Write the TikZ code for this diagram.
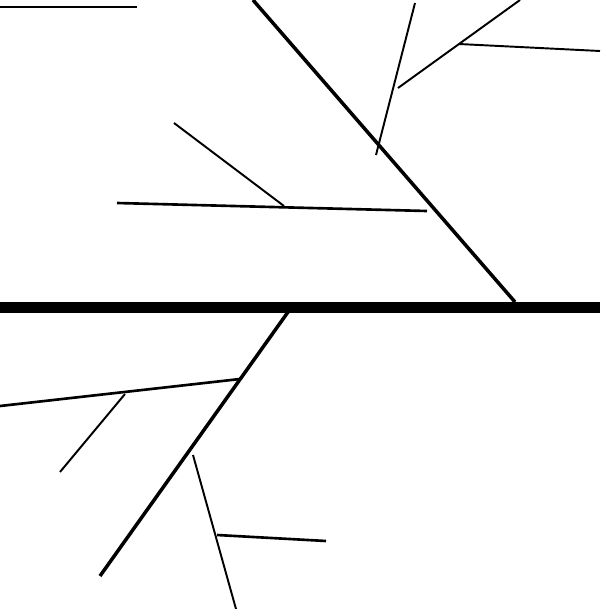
\documentclass[tikz,border=0pt]{standalone}
\usepackage{tikz}

\begin{document}
\begin{tikzpicture}[x=0.02cm,y=-0.02cm,
  backbone/.style={line width=6.2pt},
  spine/.style={line width=2pt},
  bone/.style={line width=1.5pt},
  twig/.style={line width=1.1pt}]
  \useasboundingbox (0,0) rectangle (600,609);

  % Backbone
  \coordinate (bL) at (0,307.5);
  \coordinate (bR) at (600,307.5);
  \draw[backbone] (bL) -- (bR);

  % Loose line top left
  \coordinate (tA) at (0,7);
  \coordinate (tB) at (137,7);
  \draw[bone] (tA) -- (tB);

  % Upper spine
  \coordinate (uTop) at (253,0);
  \coordinate (uFoot) at (515,302);
  \draw[spine] (uTop) -- (uFoot);

  % Upper branches
  \coordinate (ubLow) at (376,155);
  \coordinate (ubTop) at (415,3);
  \coordinate (ubFork) at (398,88);
  \coordinate (ubTip) at (520,0);
  \coordinate (ubKnee) at (459,44);
  \coordinate (ubEnd) at (600,51);
  \draw[twig] (ubLow) -- (ubTop);
  \draw[twig] (ubFork) -- (ubTip);
  \draw[twig] (ubKnee) -- (ubEnd);

  % Middle bone
  \coordinate (mL) at (117,203);
  \coordinate (mR) at (427,211);
  \coordinate (mFork) at (284,206);
  \coordinate (mTip) at (174,123);
  \draw[bone] (mL) -- (mR);
  \draw[twig] (mFork) -- (mTip);

  % Lower spine
  \coordinate (lTop) at (288,312);
  \coordinate (lEnd) at (100,576);
  \draw[spine] (lTop) -- (lEnd);

  % Lower branches
  \coordinate (lbFork) at (240,379);
  \coordinate (lbEnd) at (0,406);
  \coordinate (lbKnee) at (125,394);
  \coordinate (lbTip) at (60,472);
  \draw[bone] (lbFork) -- (lbEnd);
  \draw[twig] (lbKnee) -- (lbTip);

  \coordinate (ldFork) at (193,455);
  \coordinate (ldEnd) at (236,609);
  \coordinate (ldKnee) at (217,535);
  \coordinate (ldTip) at (326,541);
  \draw[twig] (ldFork) -- (ldEnd);
  \draw[bone] (ldKnee) -- (ldTip);
\end{tikzpicture}
\end{document}
